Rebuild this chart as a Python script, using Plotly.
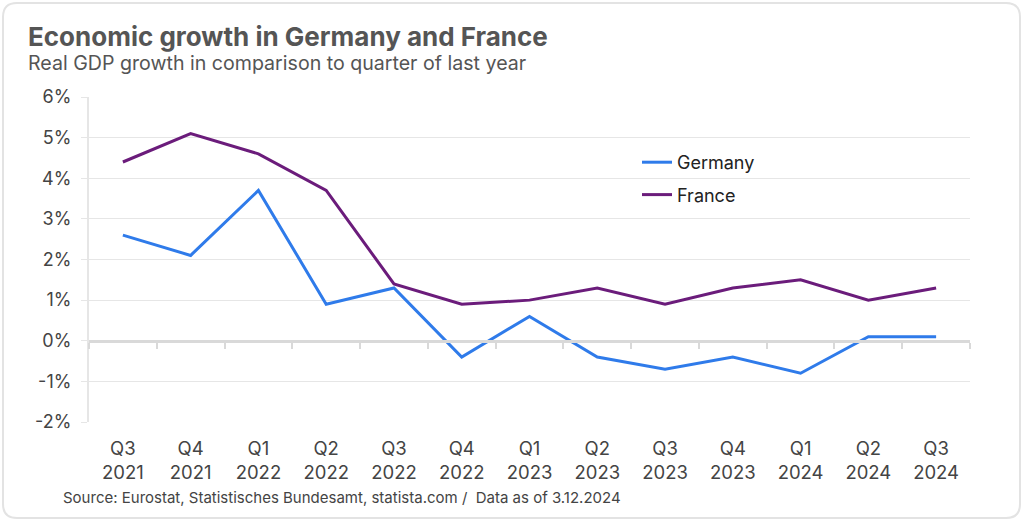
import plotly.graph_objects as go

quarters = ["Q3<br>2021", "Q4<br>2021", "Q1<br>2022", "Q2<br>2022", "Q3<br>2022", "Q4<br>2022",
            "Q1<br>2023", "Q2<br>2023", "Q3<br>2023", "Q4<br>2023", "Q1<br>2024", "Q2<br>2024", "Q3<br>2024"]
germany = [2.6, 2.1, 3.7, 0.9, 1.3, -0.4, 0.6, -0.4, -0.7, -0.4, -0.8, 0.1, 0.1]
france = [4.4, 5.1, 4.6, 3.7, 1.4, 0.9, 1.0, 1.3, 0.9, 1.3, 1.5, 1.0, 1.3]
y_tickvals = [-2, -1, 0, 1, 2, 3, 4, 5, 6]
y_ticktext = ["-2%", "-1%", "0%", "1%", "2%", "3%", "4%", "5%", "6%"]

W, H = 1024, 522
L, R, T, B = 89, 54, 97, 100
PW, PH = W - L - R, H - T - B


def px(xp):
    return (xp - L) / PW


def py(yp):
    return (H - B - yp) / PH


FONT = "Inter"
BLUE = "#2f7bea"
PURPLE = "#6b1c7b"
GRID = "#e6e6e6"
AXIS = "#d9d9d9"

fig = go.Figure()
fig.add_trace(go.Scatter(x=quarters, y=germany, name="Germany", mode="lines", legendgroup="g",
                         line=dict(color=BLUE, width=3)))
fig.add_trace(go.Scatter(x=quarters, y=france, name="France", mode="lines", legendgroup="f",
                         line=dict(color=PURPLE, width=3)))
# helper trace so the zero-line axis (with boundary ticks) is drawn
fig.add_trace(go.Scatter(x=quarters, y=[None] * len(quarters), xaxis="x2", mode="lines",
                         showlegend=False, hoverinfo="skip"))

ymin, ymax = y_tickvals[0], y_tickvals[-1]

# rounded border
x0, x1, y0, y1, r = 3, 1020, 3, 518, 14
path = (f"M {px(x0 + r)} {py(y0)} L {px(x1 - r)} {py(y0)} Q {px(x1)} {py(y0)} {px(x1)} {py(y0 + r)} "
        f"L {px(x1)} {py(y1 - r)} Q {px(x1)} {py(y1)} {px(x1 - r)} {py(y1)} "
        f"L {px(x0 + r)} {py(y1)} Q {px(x0)} {py(y1)} {px(x0)} {py(y1 - r)} "
        f"L {px(x0)} {py(y0 + r)} Q {px(x0)} {py(y0)} {px(x0 + r)} {py(y0)} Z")

fig.update_layout(
    width=W, height=H,
    margin=dict(l=L, r=R, t=T, b=B, autoexpand=False),
    paper_bgcolor="white", plot_bgcolor="white",
    font=dict(family=FONT, color="#444444", size=18),
    showlegend=True,
    legend=dict(x=px(637), y=py(144), xanchor="left", yanchor="top",
                font=dict(family=FONT, size=18, color="#222222"),
                traceorder="grouped", tracegroupgap=6,
                bgcolor="rgba(0,0,0,0)", itemwidth=30),
    xaxis=dict(range=[-0.5, len(quarters) - 0.5], showgrid=False, showline=False,
               ticks="", ticklabelstandoff=13,
               tickfont=dict(family=FONT, size=18.5, color="#444444"), zeroline=False),
    xaxis2=dict(overlaying="x", anchor="free", position=(0 - ymin) / (ymax - ymin), side="bottom",
                range=[-0.5, len(quarters) - 0.5], showgrid=False, showticklabels=False,
                showline=True, linecolor=AXIS, linewidth=3, ticks="outside", ticklen=6,
                tickwidth=2, tickcolor=AXIS, tickson="boundaries"),
    yaxis=dict(range=[ymin, ymax], tickvals=y_tickvals, ticktext=y_ticktext,
               showgrid=True, gridcolor=GRID, gridwidth=1, zeroline=False,
               showline=True, linecolor=GRID, linewidth=2, ticks="outside", ticklen=6,
               tickcolor=GRID, tickwidth=1, ticklabelstandoff=6,
               tickfont=dict(family=FONT, size=18, color="#444444")),
    shapes=[dict(type="path", path=path, xref="paper", yref="paper",
                 line=dict(color="#e3e3e3", width=2), layer="below")],
    annotations=[
        dict(text="<b>Economic growth in Germany and France</b>", x=px(26), y=py(36),
             xref="paper", yref="paper", xanchor="left", yanchor="middle", showarrow=False,
             font=dict(family=FONT, size=26, color="#555555")),
        dict(text="Real GDP growth in comparison to quarter of last year", x=px(26), y=py(63),
             xref="paper", yref="paper", xanchor="left", yanchor="middle", showarrow=False,
             font=dict(family=FONT, size=19.6, color="#555555")),
        dict(text="Source: Eurostat, Statistisches Bundesamt, statista.com /  Data as of 3.12.2024",
             x=px(61), y=py(497), xref="paper", yref="paper", xanchor="left", yanchor="middle",
             showarrow=False, font=dict(family=FONT, size=15, color="#444444")),
    ],
)

fig.write_html("out.html", config={"displayModeBar": False},
               post_script="document.body.style.margin='0';")
